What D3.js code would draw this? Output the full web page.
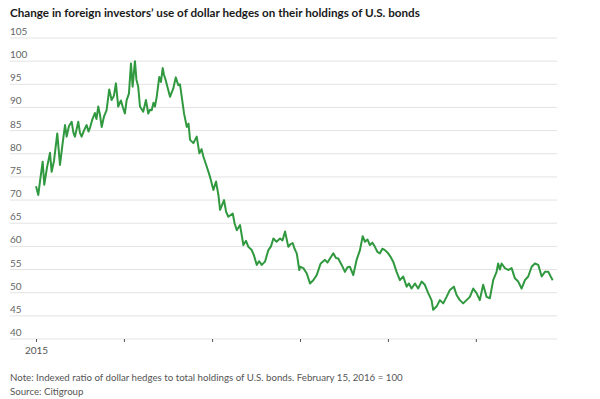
<!DOCTYPE html>
<html>
<head>
<meta charset="utf-8">
<script src="https://cdn.jsdelivr.net/npm/d3@7"></script>
<style>
  body { margin: 0; background: #fff; }
  svg { display: block; font-family: Lato, "Open Sans", sans-serif; }
</style>
</head>
<body>
<svg id="chart" width="600" height="399"></svg>
<script>
// decimal years
const dates = [
  2015.000, 2015.026, 2015.045, 2015.076, 2015.094, 2015.125, 2015.159, 2015.178, 2015.205, 2015.242,
  2015.273, 2015.301, 2015.330, 2015.349, 2015.375, 2015.406, 2015.426, 2015.443, 2015.481, 2015.500,
  2015.519, 2015.545, 2015.576, 2015.597, 2015.614, 2015.642, 2015.670, 2015.688, 2015.708, 2015.727,
  2015.747, 2015.773, 2015.803, 2015.833, 2015.860, 2015.886, 2015.909, 2015.935, 2015.966, 2015.989,
  2016.011, 2016.031, 2016.057, 2016.080, 2016.099, 2016.125, 2016.142, 2016.162, 2016.182, 2016.219,
  2016.250, 2016.276, 2016.295, 2016.315, 2016.335, 2016.352, 2016.372, 2016.401, 2016.420, 2016.440,
  2016.455, 2016.474, 2016.500, 2016.523, 2016.560, 2016.588, 2016.617, 2016.636, 2016.656, 2016.682,
  2016.713, 2016.733, 2016.750, 2016.788, 2016.826, 2016.856, 2016.881, 2016.901, 2016.940, 2016.977,
  2017.015, 2017.045, 2017.072, 2017.091, 2017.136, 2017.159, 2017.185, 2017.235, 2017.256, 2017.281,
  2017.318, 2017.356, 2017.386, 2017.413, 2017.451, 2017.477, 2017.508, 2017.534, 2017.565, 2017.602,
  2017.640, 2017.670, 2017.697, 2017.733, 2017.773, 2017.801, 2017.830, 2017.867, 2017.892, 2017.917,
  2017.938, 2017.963, 2017.992, 2018.000, 2018.038, 2018.076, 2018.114, 2018.151, 2018.190, 2018.235,
  2018.284, 2018.313, 2018.341, 2018.379, 2018.409, 2018.435, 2018.474, 2018.511, 2018.540, 2018.568,
  2018.606, 2018.644, 2018.682, 2018.713, 2018.739, 2018.767, 2018.795, 2018.824, 2018.852, 2018.881,
  2018.909, 2018.937, 2018.966, 2019.003, 2019.028, 2019.060, 2019.099, 2019.136, 2019.174, 2019.213,
  2019.239, 2019.269, 2019.307, 2019.344, 2019.383, 2019.420, 2019.458, 2019.496, 2019.515, 2019.553,
  2019.591, 2019.629, 2019.667, 2019.705, 2019.750, 2019.781, 2019.818, 2019.856, 2019.894, 2019.932,
  2019.970, 2020.008, 2020.045, 2020.083, 2020.122, 2020.159, 2020.197, 2020.235, 2020.253, 2020.273,
  2020.292, 2020.330, 2020.367, 2020.406, 2020.443, 2020.481, 2020.519, 2020.557, 2020.594, 2020.633,
  2020.670, 2020.708, 2020.747, 2020.784, 2020.822, 2020.849, 2020.872
];
const hedgeIndex = [
  73.0, 71.1, 74.0, 78.3, 73.3, 77.0, 80.2, 76.1, 78.5, 84.4,
  77.6, 82.0, 86.2, 83.7, 86.0, 86.9, 84.5, 83.7, 86.9, 84.5,
  83.7, 85.0, 86.2, 84.8, 85.6, 87.5, 88.8, 87.5, 90.2, 88.5,
  85.8, 88.0, 89.4, 93.9, 91.6, 92.5, 95.2, 90.2, 91.5, 90.0,
  88.7, 91.6, 93.0, 99.5, 94.5, 100.0, 96.0, 94.5, 90.2, 89.1,
  91.6, 88.7, 89.5, 89.4, 91.0, 90.2, 92.3, 96.6, 95.5, 98.5,
  97.0, 95.9, 94.0, 92.3, 94.1, 96.5, 94.8, 95.0, 92.3, 88.7,
  85.8, 86.5, 83.0, 82.3, 83.7, 80.1, 81.0, 79.4, 77.2, 75.0,
  72.2, 74.0, 71.1, 67.9, 70.0, 67.5, 66.4, 67.1, 65.0, 63.5,
  64.6, 60.3, 61.2, 59.9, 59.2, 58.0, 56.0, 56.8, 56.0, 56.7,
  59.2, 60.0, 61.7, 61.0, 61.7, 61.3, 63.2, 59.9, 60.5, 60.7,
  59.5, 58.5, 54.9, 55.6, 55.3, 54.2, 52.0, 52.7, 53.8, 56.3,
  57.1, 56.5, 57.4, 58.5, 57.5, 57.4, 56.0, 54.5, 55.5, 55.6,
  53.8, 57.1, 59.2, 62.2, 61.0, 61.5, 60.3, 60.8, 59.9, 58.8,
  58.5, 59.5, 59.2, 58.5, 57.8, 56.7, 54.5, 52.7, 53.5, 51.3,
  52.0, 50.9, 52.0, 50.9, 52.4, 51.7, 49.9, 48.4, 46.3, 47.0,
  48.4, 47.7, 49.1, 50.6, 51.3, 49.5, 48.4, 47.7, 48.4, 49.1,
  50.9, 49.9, 48.4, 51.7, 49.1, 48.8, 52.7, 54.5, 56.3, 55.0,
  56.3, 55.3, 54.9, 55.3, 53.1, 52.4, 50.9, 52.7, 53.5, 55.6,
  56.3, 56.0, 53.5, 54.5, 54.5, 53.5, 52.7
];
const yTicks = [40, 45, 50, 55, 60, 65, 70, 75, 80, 85, 90, 95, 100, 105];
const xTickYears = [2015, 2016, 2017, 2018, 2019, 2020];
const xTickLabels = ["2015"];

const titleText = "Change in foreign investors\u2019 use of dollar hedges on their holdings of U.S. bonds";
const noteText = "Note: Indexed ratio of dollar hedges to total holdings of U.S. bonds. February 15, 2016 = 100";
const sourceText = "Source: Citigroup";

const svg = d3.select("#chart");

const yearToDate = y => {
  const yr = Math.floor(y);
  const start = new Date(yr, 0, 1), end = new Date(yr + 1, 0, 1);
  return new Date(+start + (y - yr) * (end - start));
};

const data = dates.map((d, i) => ({ date: yearToDate(d), value: hedgeIndex[i] }));

const x = d3.scaleTime()
  .domain([new Date(2015, 0, 1), new Date(2021, 0, 1)])
  .range([36, 564]);
const y = d3.scaleLinear()
  .domain([40, 105])
  .range([339, 38]);

// title
const title = svg.append("text")
  .attr("x", 10).attr("y", 17)
  .attr("font-size", 11.5).attr("font-weight", 700)
  .attr("fill", "#1a1a1a")
  .text(titleText);
const tw = title.node().getComputedTextLength();
title.attr("font-size", 11.5 * 410 / tw);

// gridlines + y labels
const grid = svg.append("g");
grid.selectAll("line").data(yTicks).enter()
  .append("line")
    .attr("x1", 10).attr("x2", 557)
    .attr("y1", d => y(d)).attr("y2", d => y(d))
    .attr("stroke", "#e3e3e3").attr("stroke-width", 1);
grid.selectAll("text").data(yTicks).enter()
  .append("text")
    .attr("x", 10).attr("y", d => y(d) - 3)
    .attr("font-size", 10).attr("fill", "#666")
    .text(d => d);

// x axis ticks
const xAxis = d3.axisBottom(x)
  .tickValues(xTickYears.map(yr => new Date(yr, 0, 1)))
  .tickSize(3)
  .tickFormat(d => xTickLabels.includes(String(d.getFullYear())) ? d.getFullYear() : "");
const gx = svg.append("g")
  .attr("transform", `translate(0,${y(40)})`)
  .call(xAxis);
gx.select(".domain").remove();
gx.selectAll(".tick line").attr("stroke", "#555");
gx.selectAll(".tick text")
  .attr("font-size", 10).attr("fill", "#555")
  .attr("font-family", "Lato, 'Open Sans', sans-serif")
  .attr("dy", "0.9em");

// the line
const line = d3.line()
  .x(d => x(d.date))
  .y(d => y(d.value));
svg.append("path")
  .datum(data)
  .attr("fill", "none")
  .attr("stroke", "#30993f")
  .attr("stroke-width", 2)
  .attr("stroke-linejoin", "round")
  .attr("d", line);

// footnotes
const note = svg.append("text")
  .attr("x", 10).attr("y", 381)
  .attr("font-size", 10).attr("fill", "#555")
  .text(noteText);
const nw = note.node().getComputedTextLength();
note.attr("font-size", 10 * 393 / nw);
svg.append("text")
  .attr("x", 10).attr("y", 395)
  .attr("font-size", note.attr("font-size")).attr("fill", "#555")
  .text(sourceText);
</script>
</body>
</html>
